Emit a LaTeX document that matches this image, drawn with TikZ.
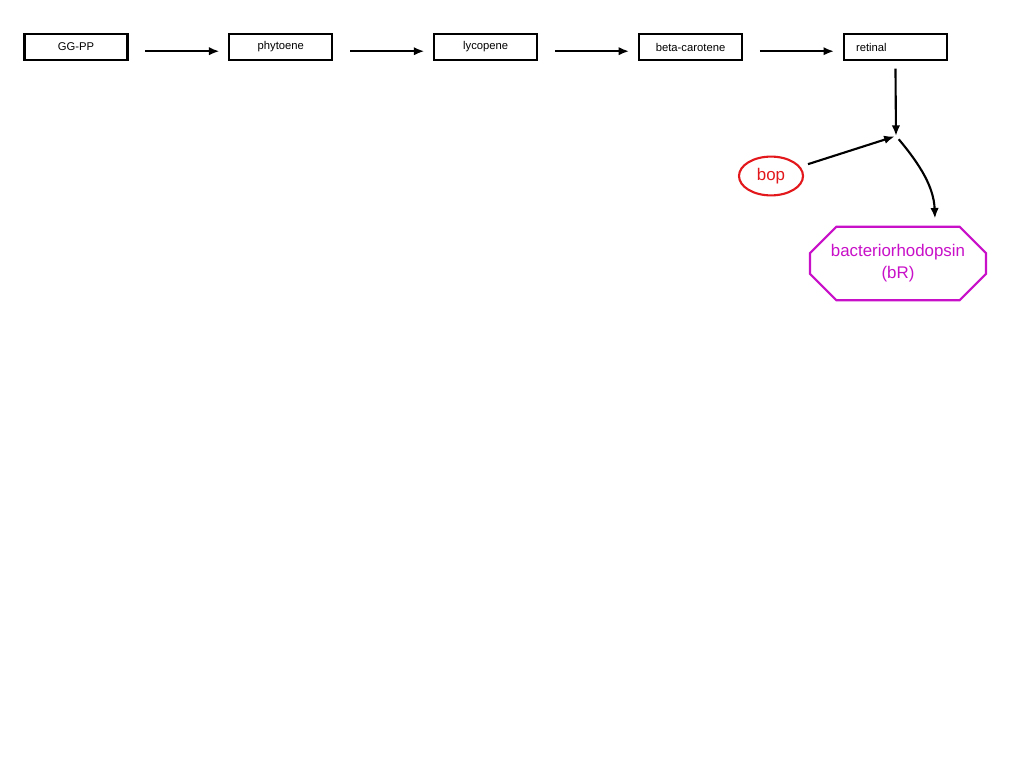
\documentclass[tikz,border=0pt]{standalone}
\usepackage{fontspec}
\setmainfont{Liberation Sans}
\usetikzlibrary{arrows,arrows.meta,positioning,shapes.geometric,shapes.misc}
\definecolor{bopred}{RGB}{226,24,28}
\definecolor{brmagenta}{RGB}{200,16,200}

\begin{document}
\begin{tikzpicture}[x=0.025cm, y=-0.025cm, node distance = 5.12cm, on grid, line width=1.5pt,
    >={Latex[length=7.5pt,width=6pt]},
    compound/.style={draw, rectangle, minimum width=2.575cm, minimum height=0.67cm, font=\fontsize{8}{9}\selectfont},
    link/.style={->, shorten <=0.42cm, shorten >=0.22cm}]
                \useasboundingbox[fill=white] (0,0) rectangle (1024,768);

                \node[compound] at (76,47)              (ggpp)  {GG-PP};
                \node[compound, right of = ggpp]        (phyt)  {phytoene};
                \node[compound, right of = phyt]        (lyco)  {lycopene};
                \node[compound, right of = lyco]        (beta)  {beta-carotene};
                \node[compound, right of = beta, text width=1.97cm, align=left] (ret) {retinal};

                \node[ellipse, draw=bopred, text=bopred, minimum width=1.6cm, minimum height=0.97cm,
                      font=\fontsize{12}{14}\selectfont] at (771,176) (bop) {bop};
                \node[chamfered rectangle, chamfered rectangle xsep=0.33cm, chamfered rectangle ysep=0.33cm,
                      draw=brmagenta, text=brmagenta, minimum width=4.4cm, minimum height=1.775cm, align=center,
                      font=\fontsize{12}{15.6}\selectfont] at (898,263.5) (br) {bacteriorhodopsin\\(bR)};
                \coordinate (j) at (896,136);

                \path
                    ([yshift=-3pt]ggpp.east) edge[link] ([yshift=-3pt]phyt.west)
                    ([yshift=-3pt]phyt.east) edge[link] ([yshift=-3pt]lyco.west)
                    ([yshift=-3pt]lyco.east) edge[link] ([yshift=-3pt]beta.west)
                    ([yshift=-3pt]beta.east) edge[link] ([yshift=-3pt]ret.west)
                    ;
                \draw[->, shorten <=0.18cm] (ret.south) -- (j);
                \draw[->, shorten <=0.2cm, shorten >=1pt] (bop) -- (j);
                \draw[->, shorten <=3pt, shorten >=0.18cm] (j) to[out=-50, in=92] ([xshift=0.93cm]br.north);
            \end{tikzpicture}
\end{document}
